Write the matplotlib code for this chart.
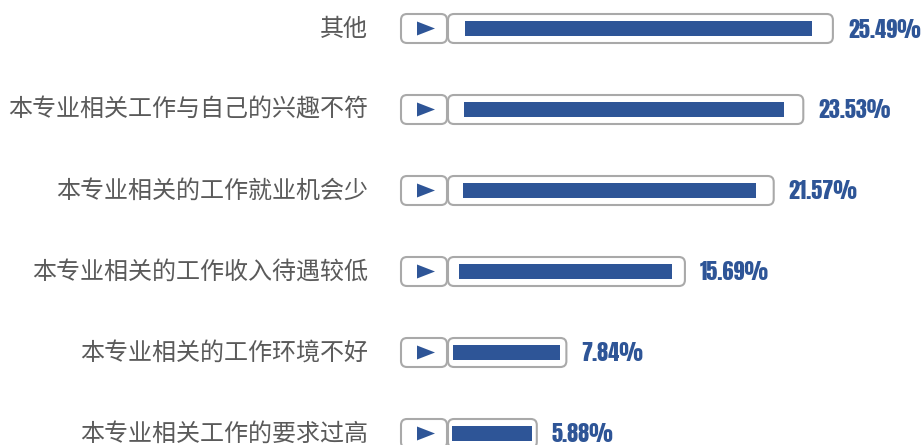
import matplotlib.pyplot as plt
from matplotlib.patches import FancyBboxPatch, Polygon

plt.rcParams['font.family'] = ['Noto Sans CJK SC', 'DejaVu Sans']

reasons = ['其他', '本专业相关工作与自己的兴趣不符', '本专业相关的工作就业机会少',
           '本专业相关的工作收入待遇较低', '本专业相关的工作环境不好', '本专业相关工作的要求过高']
shares = [25.49, 23.53, 21.57, 15.69, 7.84, 5.88]
share_labels = ['25.49%', '23.53%', '21.57%', '15.69%', '7.84%', '5.88%']

BLUE = '#2E5597'
EDGE = '#A9A9A9'
TEXT = '#5A5A5A'

W, H = 921, 445
X0 = 448        # pixel where value 0 sits
SX = 15.1       # pixels per percent
Y0 = 28.5       # pixel centre of first row
SY = 81.0       # pixels per row


def px(dx):
    return dx / SX


def py(dy):
    return dy / SY


fig = plt.figure(figsize=(W / 100, H / 100), dpi=100)
ax = fig.add_axes([0, 0, 1, 1])
ax.set_xlim(-X0 / SX, (W - X0) / SX)
ax.set_ylim((H - Y0) / SY, -Y0 / SY)
ax.axis('off')

aspect = SX / SY
box_h = py(29)
bar_h = py(15)

for i, (name, v, lab) in enumerate(zip(reasons, shares, share_labels)):
    # small button box with triangle
    ax.add_patch(FancyBboxPatch((px(-47), i - box_h / 2), px(46), box_h,
                                boxstyle='round,pad=0,rounding_size=%f' % px(6),
                                mutation_aspect=aspect, fc='white', ec=EDGE, lw=1.5))
    ax.add_patch(Polygon([(px(-31), i - py(7)), (px(-31), i + py(7)), (px(-13), i)],
                         closed=True, fc=BLUE, ec='none'))
    # outer frame scaled to value
    ax.add_patch(FancyBboxPatch((0, i - box_h / 2), v, box_h,
                                boxstyle='round,pad=0,rounding_size=%f' % px(6),
                                mutation_aspect=aspect, fc='white', ec=EDGE, lw=1.5))
    # inner bar
    ax.barh(i, v * 0.9, left=v * 0.045, height=bar_h, color=BLUE)
    ax.text(px(-80), i, name, ha='right', va='center', fontsize=17.3, color=TEXT)
    ax.text(v + px(15), i + py(1), lab, ha='left', va='center', fontsize=16,
            color=BLUE, family=['Anton', 'DejaVu Sans'])

fig.savefig('out.png', dpi=100)
